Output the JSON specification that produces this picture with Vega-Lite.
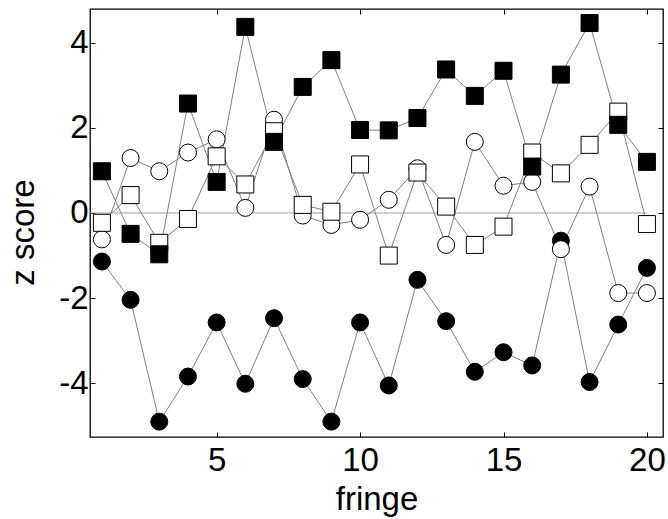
{
  "$schema": "https://vega.github.io/schema/vega-lite/v6.json",
  "autosize": "none",
  "width": 573,
  "height": 428,
  "padding": {"left": 90, "top": 9, "right": 5, "bottom": 82},
  "background": "white",
  "config": {
    "view": {"stroke": "#000", "strokeWidth": 1.3},
    "font": "Liberation Sans"
  },
  "datasets": {
    "zero": [{"fringe": 0.585, "z": 0}, {"fringe": 20, "z": 0}],
    "zs": [
      {"series": "fc", "fringe": 1, "z": -1.14}, {"series": "fc", "fringe": 2, "z": -2.04}, {"series": "fc", "fringe": 3, "z": -4.9}, {"series": "fc", "fringe": 4, "z": -3.84}, {"series": "fc", "fringe": 5, "z": -2.57}, {"series": "fc", "fringe": 6, "z": -4.01}, {"series": "fc", "fringe": 7, "z": -2.47}, {"series": "fc", "fringe": 8, "z": -3.9}, {"series": "fc", "fringe": 9, "z": -4.9}, {"series": "fc", "fringe": 10, "z": -2.57}, {"series": "fc", "fringe": 11, "z": -4.05}, {"series": "fc", "fringe": 12, "z": -1.57}, {"series": "fc", "fringe": 13, "z": -2.54}, {"series": "fc", "fringe": 14, "z": -3.73}, {"series": "fc", "fringe": 15, "z": -3.27}, {"series": "fc", "fringe": 16, "z": -3.58}, {"series": "fc", "fringe": 17, "z": -0.65}, {"series": "fc", "fringe": 18, "z": -3.97}, {"series": "fc", "fringe": 19, "z": -2.62}, {"series": "fc", "fringe": 20, "z": -1.29},
      {"series": "oc", "fringe": 1, "z": -0.62}, {"series": "oc", "fringe": 2, "z": 1.29}, {"series": "oc", "fringe": 3, "z": 0.98}, {"series": "oc", "fringe": 4, "z": 1.42}, {"series": "oc", "fringe": 5, "z": 1.73}, {"series": "oc", "fringe": 6, "z": 0.12}, {"series": "oc", "fringe": 7, "z": 2.19}, {"series": "oc", "fringe": 8, "z": -0.06}, {"series": "oc", "fringe": 9, "z": -0.28}, {"series": "oc", "fringe": 10, "z": -0.16}, {"series": "oc", "fringe": 11, "z": 0.31}, {"series": "oc", "fringe": 12, "z": 1.05}, {"series": "oc", "fringe": 13, "z": -0.75}, {"series": "oc", "fringe": 14, "z": 1.67}, {"series": "oc", "fringe": 15, "z": 0.64}, {"series": "oc", "fringe": 16, "z": 0.73}, {"series": "oc", "fringe": 17, "z": -0.85}, {"series": "oc", "fringe": 18, "z": 0.62}, {"series": "oc", "fringe": 19, "z": -1.88}, {"series": "oc", "fringe": 20, "z": -1.88},
      {"series": "os", "fringe": 1, "z": -0.23}, {"series": "os", "fringe": 2, "z": 0.42}, {"series": "os", "fringe": 3, "z": -0.7}, {"series": "os", "fringe": 4, "z": -0.14}, {"series": "os", "fringe": 5, "z": 1.33}, {"series": "os", "fringe": 6, "z": 0.67}, {"series": "os", "fringe": 7, "z": 1.92}, {"series": "os", "fringe": 8, "z": 0.19}, {"series": "os", "fringe": 9, "z": 0.03}, {"series": "os", "fringe": 10, "z": 1.14}, {"series": "os", "fringe": 11, "z": -1.0}, {"series": "os", "fringe": 12, "z": 0.95}, {"series": "os", "fringe": 13, "z": 0.15}, {"series": "os", "fringe": 14, "z": -0.75}, {"series": "os", "fringe": 15, "z": -0.32}, {"series": "os", "fringe": 16, "z": 1.42}, {"series": "os", "fringe": 17, "z": 0.93}, {"series": "os", "fringe": 18, "z": 1.6}, {"series": "os", "fringe": 19, "z": 2.38}, {"series": "os", "fringe": 20, "z": -0.26},
      {"series": "fs", "fringe": 1, "z": 0.98}, {"series": "fs", "fringe": 2, "z": -0.49}, {"series": "fs", "fringe": 3, "z": -0.97}, {"series": "fs", "fringe": 4, "z": 2.57}, {"series": "fs", "fringe": 5, "z": 0.73}, {"series": "fs", "fringe": 6, "z": 4.37}, {"series": "fs", "fringe": 7, "z": 1.67}, {"series": "fs", "fringe": 8, "z": 2.96}, {"series": "fs", "fringe": 9, "z": 3.59}, {"series": "fs", "fringe": 10, "z": 1.95}, {"series": "fs", "fringe": 11, "z": 1.94}, {"series": "fs", "fringe": 12, "z": 2.23}, {"series": "fs", "fringe": 13, "z": 3.37}, {"series": "fs", "fringe": 14, "z": 2.75}, {"series": "fs", "fringe": 15, "z": 3.34}, {"series": "fs", "fringe": 16, "z": 1.09}, {"series": "fs", "fringe": 17, "z": 3.25}, {"series": "fs", "fringe": 18, "z": 4.46}, {"series": "fs", "fringe": 19, "z": 2.07}, {"series": "fs", "fringe": 20, "z": 1.2}
    ]
  },
  "layer": [
    {
      "data": {"name": "zero"},
      "mark": {"type": "line", "color": "#a0a0a0", "strokeWidth": 1, "clip": true},
      "encoding": {
        "x": {"field": "fringe", "type": "quantitative", "scale": {"domain": [0.585, 20.56], "nice": false, "zero": false},
          "axis": {"orient": "top", "values": [5, 10, 15, 20], "labels": false, "tickSize": -5, "tickColor": "#000", "domain": false, "grid": false, "title": null}},
        "y": {"field": "z", "type": "quantitative", "scale": {"domain": [-5.26, 4.79], "nice": false, "zero": false},
          "axis": {"orient": "right", "values": [-4, -2, 0, 2, 4], "labels": false, "tickSize": -5, "tickColor": "#000", "domain": false, "grid": false, "title": null}}
      }
    },
    {
      "data": {"name": "zs"},
      "mark": {"type": "line", "color": "#808080", "strokeWidth": 1},
      "encoding": {
        "x": {"field": "fringe", "type": "quantitative", "scale": {"domain": [0.585, 20.56], "nice": false, "zero": false},
          "axis": {"orient": "bottom", "values": [5, 10, 15, 20], "tickSize": -5, "tickColor": "#000", "domain": false, "grid": false,
            "labelFontSize": 33, "labelColor": "#000", "labelPadding": 12, "labelFlush": false, "labelOverlap": false,
            "title": "fringe", "titleFontSize": 33, "titleFontWeight": "normal", "titleColor": "#000", "titleBaseline": "alphabetic", "titleY": 72}},
        "y": {"field": "z", "type": "quantitative", "scale": {"domain": [-5.26, 4.79], "nice": false, "zero": false},
          "axis": {"orient": "left", "values": [-4, -2, 0, 2, 4], "tickSize": -5, "tickColor": "#000", "domain": false, "grid": false,
            "labelFontSize": 33, "labelColor": "#000", "labelPadding": 7, "labelOverlap": false,
            "labelExpr": "replace(datum.label, '\u2212', '-')",
            "title": "z score", "titleFontSize": 33, "titleFontWeight": "normal", "titleColor": "#000", "titleBaseline": "alphabetic", "titleX": -57, "titleY": 223, "titleAngle": 270}},
        "detail": {"field": "series"},
        "order": {"field": "fringe"}
      }
    },
    {
      "data": {"name": "zs"},
      "mark": {"type": "point", "stroke": "#000", "strokeWidth": 1, "opacity": 1, "fillOpacity": 1},
      "encoding": {
        "x": {"field": "fringe", "type": "quantitative", "axis": null},
        "y": {"field": "z", "type": "quantitative", "axis": null},
        "fill": {"field": "series", "type": "nominal", "scale": {"domain": ["fc", "oc", "os", "fs"], "range": ["#000", "#fff", "#fff", "#000"]}, "legend": null},
        "shape": {"field": "series", "type": "nominal", "scale": {"domain": ["fc", "oc", "os", "fs"], "range": ["circle", "circle", "square", "square"]}, "legend": null},
        "size": {"field": "series", "type": "ordinal", "scale": {"domain": ["fc", "oc", "os", "fs"], "range": [289, 289, 196, 196]}, "legend": null}
      }
    }
  ],
  "resolve": {"axis": {"x": "independent", "y": "independent"}}
}
